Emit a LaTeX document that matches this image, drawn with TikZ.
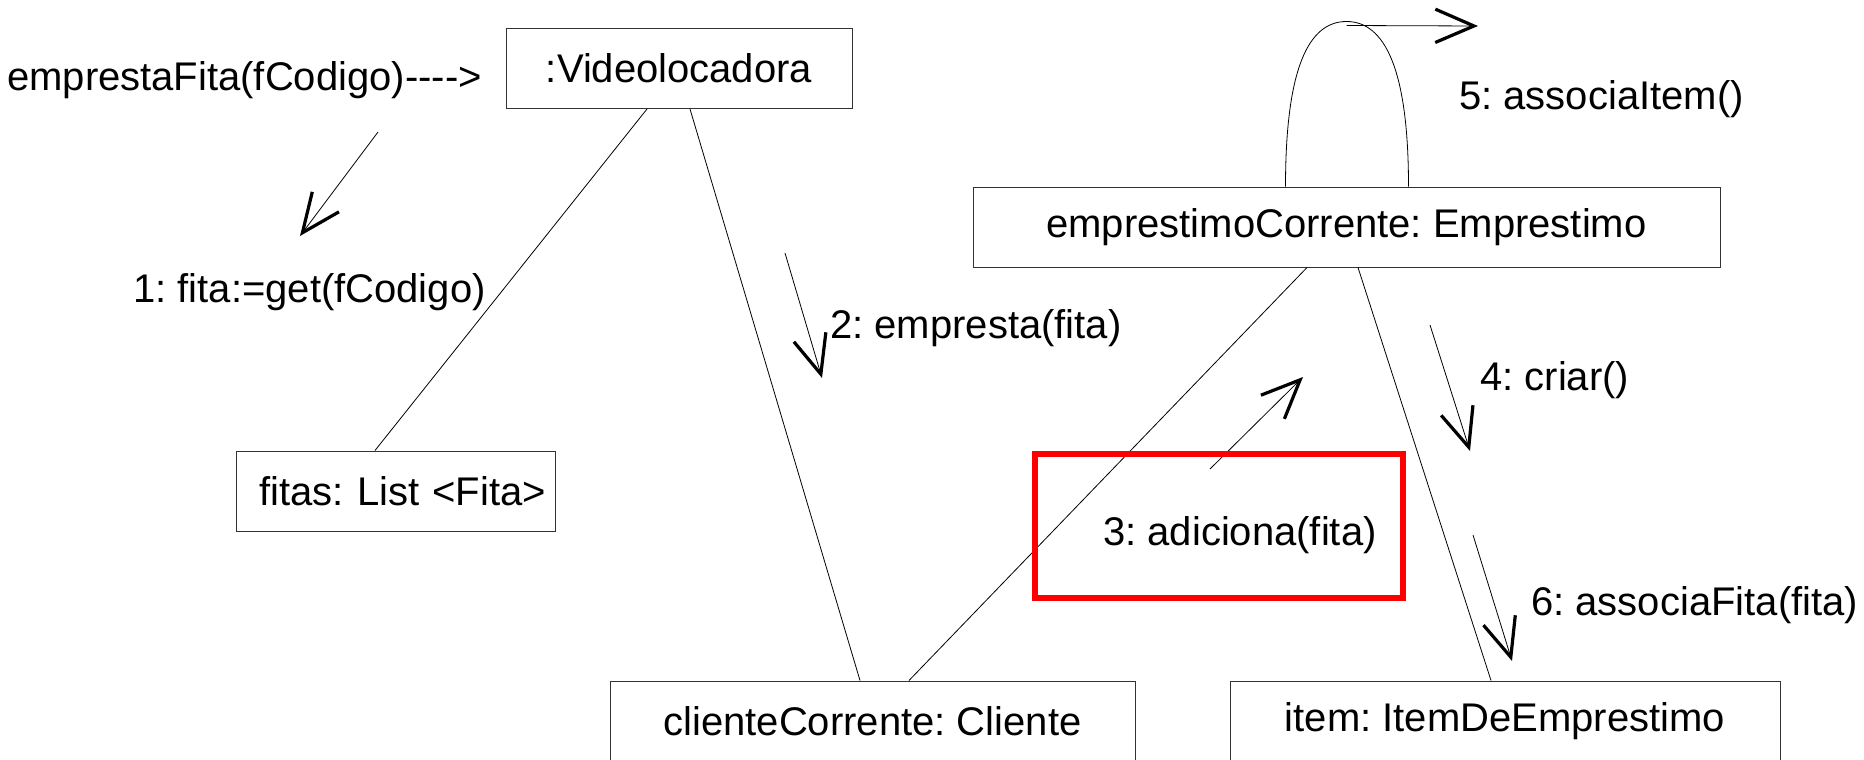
\documentclass[tikz,border=0pt]{standalone}
\usepackage{fontspec}
\setmainfont{Liberation Sans}
\usetikzlibrary{arrows.meta,calc}

\begin{document}
\frenchspacing
\begin{tikzpicture}[x=0.75pt,y=0.75pt,yscale=-1,xscale=1,
	every node/.style={font=\fontsize{30}{36}\selectfont},
	objbox/.style={draw=black!80, line width=0.75pt, fill=white, inner sep=0pt, minimum height=60pt},
	assoc/.style={line width=0.6pt},
	msg/.style={line width=0.6pt, -{Straight Barb[length=29pt,width=25pt,line width=2.4pt]}},
	lbl/.style={anchor=base west, inner sep=0pt}]
	\useasboundingbox (0,0) rectangle (1864,760);

	% objects
	\draw (679,68.5) node [objbox, minimum width=259.5pt] (vl) {:Videolocadora};
	\draw (395.5,491) node [objbox, minimum width=239.25pt, inner xsep=6.75pt, text width=225.75pt, align=right] (fitas) {fitas: List <Fita>};
	\draw (1346.5,227) node [objbox, minimum width=560.25pt] (emp) {emprestimoCorrente: Emprestimo};
	\draw (872.5,721) node [objbox, minimum width=393.75pt] (cli) {clienteCorrente: Cliente};
	\draw (1505,721) node [objbox, minimum width=412.5pt] (item) {item: ItemDeEmprestimo};

	% links
	\draw [assoc] ($(vl.south)+(-32,0)$) -- ($(fitas.north)+(-20.5,0)$);
	\draw [assoc] ($(vl.south)+(11,0)$) -- ($(cli.north)+(-12.5,0)$);
	\draw [assoc] ($(emp.south)+(-39.5,0)$) -- ($(cli.north)+(36.5,0)$);
	\draw [assoc] ($(emp.south)+(11.5,0)$) -- ($(item.north)+(-14,0)$);
	\draw [assoc] ($(emp.north)+(-61,0)$) .. controls +(0,-118) and +(-38,0) .. ($(emp.north)+(0,-165)$) coordinate (looptop) .. controls +(38,0) and +(0,-118) .. ($(emp.north)+(62,0)$);

	% messages
	\coordinate (m1a) at (378,132);
	\coordinate (m1b) at (300,236);
	\coordinate (m2a) at (785,253);
	\coordinate (m2b) at (822,378);
	\coordinate (m3a) at (1210,469);
	\coordinate (m3b) at (1303,377);
	\coordinate (m4a) at (1430,325);
	\coordinate (m4b) at (1470,451);
	\coordinate (m5a) at ($(looptop)+(0,4)$);
	\coordinate (m5b) at (1478,26);
	\coordinate (m6a) at (1473,535);
	\coordinate (m6b) at (1512,661);
	\draw [msg] (m1a) -- (m1b);
	\draw [msg] (m2a) -- (m2b);
	\draw [msg] (m3a) -- (m3b);
	\draw [msg] (m4a) -- (m4b);
	\draw [msg] (m5a) -- (m5b);
	\draw [msg] (m6a) -- (m6b);

	\draw (7,90) node [lbl] (call) {emprestaFita(fCodigo)-{}-{}-{}->};
	\draw (133,302) node [lbl] (t1) {1: fita:=get(fCodigo)};
	\draw (830,338) node [lbl] (t2) {2: empresta(fita)};
	\draw (1103,545) node [lbl] (t3) {3: adiciona(fita)};
	\draw (1480,390) node [lbl] (t4) {4: criar()};
	\draw (1459,109) node [lbl] (t5) {5: associaItem()};
	\draw (1531,615) node [lbl] (t6) {6: associaFita(fita)};

	\draw [color={rgb, 255:red, 255; green, 0; blue, 0 }, line width=4.1pt] (1035,454) rectangle (1403,598);
\end{tikzpicture}
\end{document}
